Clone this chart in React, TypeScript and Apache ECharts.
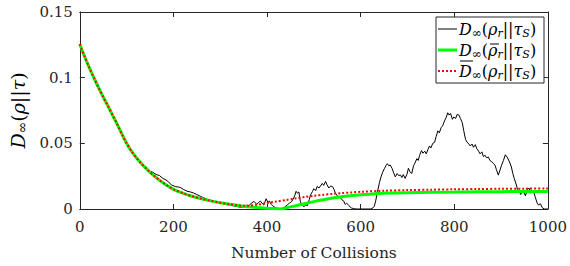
import React, { useEffect, useRef } from "react";
import * as echarts from "echarts";

// ---- data ----
const xTicks = [0, 200, 400, 600, 800, 1000];
const yTicks = [0, 0.05, 0.1, 0.15];

// shared decay part (both averaged curves)
const decayX = [0, 10, 20, 30, 40, 50, 60, 70, 80, 90, 100, 110, 120, 130, 140, 150, 160, 170, 180, 190, 200, 220, 240, 260, 280, 300, 320, 340];
const decayY = [0.1255, 0.1163, 0.1078, 0.1, 0.0924, 0.0853, 0.0785, 0.0715, 0.0645, 0.057, 0.05, 0.0442, 0.0394, 0.0352, 0.0315, 0.028, 0.0249, 0.022, 0.0194, 0.0171, 0.015, 0.0121, 0.0097, 0.0078, 0.0062, 0.0048, 0.0036, 0.0026];

const greenTailX = [360, 380, 400, 420, 430, 440, 460, 480, 500, 520, 540, 560, 580, 600, 625, 650, 700, 750, 800, 850, 900, 950, 1000];
const greenTailY = [0.0017, 0.0011, 0.0006, 0.0002, 0, 0.0008, 0.0024, 0.004, 0.0056, 0.007, 0.0083, 0.0094, 0.0102, 0.0109, 0.0115, 0.0119, 0.0124, 0.0127, 0.0129, 0.0131, 0.0132, 0.0133, 0.0133];

const redTailX = [350, 360, 380, 400, 420, 440, 460, 480, 500, 520, 540, 560, 580, 600, 650, 700, 750, 800, 850, 900, 950, 1000];
const redTailY = [0.0024, 0.0025, 0.0033, 0.0045, 0.0057, 0.0068, 0.008, 0.0091, 0.01, 0.0108, 0.0115, 0.0121, 0.0126, 0.0131, 0.0139, 0.0144, 0.0147, 0.015, 0.0152, 0.0154, 0.0155, 0.0156];

const blackPts: [number, number][] = [
  [0, 0.1255], [20, 0.1078], [40, 0.0924], [60, 0.0785], [80, 0.0645], [100, 0.05], [120, 0.0394], [140, 0.0318],
  [149, 0.0288], [155, 0.0282], [163, 0.0263], [170, 0.0255], [178, 0.0232], [184, 0.0222], [190, 0.0205], [196, 0.0182],
  [205, 0.017], [210, 0.0168], [215, 0.0163], [222, 0.0148], [229, 0.0136], [236, 0.013], [243, 0.0122], [250, 0.011],
  [258, 0.0096], [266, 0.0083], [274, 0.0072], [282, 0.0064], [290, 0.0055], [302, 0.0046], [312, 0.0035], [323, 0.0028],
  [333, 0.002], [344, 0.0013], [350, 0.0018], [355, 0.003], [361, 0.0025], [366, 0.0042], [372, 0.0058], [378, 0.0035],
  [382, 0.005], [386, 0.006], [390, 0.004], [393, 0.003], [398, 0.0078], [402, 0.005], [405, 0.006], [409, 0.0035],
  [413, 0.002], [420, 0.0008], [427, 0], [432, 0.0005], [438, 0.0015], [443, 0.003], [448, 0.0045], [452, 0.0055],
  [455, 0.007], [459, 0.01], [462, 0.0135], [465, 0.012], [468, 0.013], [471, 0.006], [474, 0.003], [479, 0.0018],
  [483, 0.0032], [486, 0.0025], [490, 0.007], [493, 0.0108], [497, 0.0133], [500, 0.0155], [504, 0.014], [507, 0.0172],
  [511, 0.016], [514, 0.0175], [518, 0.0195], [521, 0.018], [525, 0.021], [528, 0.0185], [532, 0.016], [536, 0.0175],
  [540, 0.017], [543, 0.015], [546, 0.012], [549, 0.0107], [553, 0.0085], [556, 0.009], [560, 0.007], [564, 0.006],
  [567, 0.0035], [570, 0.0045], [575, 0.0025], [580, 0.0008], [585, 0.0003], [590, 0], [622, 0], [626, 0.0008],
  [629, 0.002], [632, 0.006], [636, 0.0133], [640, 0.02], [644, 0.025], [647, 0.028], [651, 0.031], [654, 0.033],
  [657, 0.0345], [660, 0.033], [663, 0.0335], [667, 0.031], [670, 0.028], [674, 0.0245], [678, 0.027], [681, 0.0255],
  [685, 0.0258], [688, 0.024], [691, 0.0262], [695, 0.0233], [699, 0.0265], [702, 0.031], [705, 0.0285], [709, 0.027],
  [713, 0.033], [716, 0.035], [720, 0.0383], [723, 0.037], [726, 0.041], [730, 0.0445], [733, 0.0425], [737, 0.044],
  [740, 0.042], [744, 0.0455], [747, 0.048], [750, 0.0465], [754, 0.05], [758, 0.0508], [761, 0.055], [765, 0.0595],
  [768, 0.058], [772, 0.062], [775, 0.0633], [779, 0.067], [783, 0.07], [786, 0.0733], [789, 0.0715], [792, 0.0728],
  [796, 0.0683], [799, 0.07], [803, 0.069], [806, 0.072], [810, 0.0715], [813, 0.069], [817, 0.0658], [820, 0.06],
  [824, 0.053], [827, 0.051], [831, 0.0495], [834, 0.048], [838, 0.0495], [841, 0.047], [845, 0.049], [848, 0.046],
  [852, 0.044], [855, 0.042], [859, 0.0435], [862, 0.04], [866, 0.0408], [869, 0.039], [873, 0.0395], [876, 0.037],
  [880, 0.036], [884, 0.0345], [887, 0.0333], [890, 0.03], [894, 0.0258], [897, 0.029], [901, 0.0333], [905, 0.037],
  [909, 0.0413], [913, 0.0395], [918, 0.0358], [922, 0.032], [925, 0.027], [928, 0.0233], [932, 0.019], [935, 0.015],
  [939, 0.0133], [942, 0.011], [945, 0.014], [949, 0.0125], [952, 0.01], [956, 0.015], [960, 0.0158], [963, 0.012],
  [966, 0.0145], [970, 0.0125], [973, 0.009], [977, 0.0045], [980, 0.003], [984, 0.004], [988, 0.001], [992, 0], [1000, 0],
];

const FONT = "DejaVu Serif";
const INK = "#262626";

const makeRich = (big: number, small: number, inf: number, pad: number) => ({
  i: { fontFamily: FONT, fontStyle: "italic", fontSize: big, color: "#000" },
  n: { fontFamily: FONT, fontSize: big, color: "#000" },
  s: { fontFamily: FONT, fontStyle: "italic", fontSize: small, color: "#000", padding: [pad, 0, 0, 0] },
  inf: { fontFamily: FONT, fontSize: inf, color: "#000", padding: [pad - 1, 0, 0, 0] },
});
const legendRich = makeRich(16, 11, 12, 8);
const nameRich = makeRich(19, 13, 14, 9);

const legendRows = [
  { text: "{i|D}{inf|∞}{n|(}{i|ρ}{s|r}{n|||}{i|τ}{s|S}{n|)}", color: "#000", width: 1, dash: "solid", bar: "" },
  { text: "{i|D}{inf|∞}{n|(}{i|ρ}{s|r}{n|||}{i|τ}{s|S}{n|)}", color: "#00ff00", width: 3, dash: "solid", bar: "rho" },
  { text: "{i|D}{inf|∞}{n|(}{i|ρ}{s|r}{n|||}{i|τ}{s|S}{n|)}", color: "#ff0000", width: 2, dash: [2, 2], bar: "D" },
];

export default function App() {
  const ref = useRef<HTMLDivElement>(null);
  useEffect(() => {
    if (!ref.current) return;
    const chart = echarts.init(ref.current, undefined, { renderer: "svg" });
    const green = decayX.map((x, k) => [x, decayY[k]]).concat(greenTailX.map((x, k) => [x, greenTailY[k]]));
    const red = decayX.map((x, k) => [x, decayY[k]]).concat(redTailX.map((x, k) => [x, redTailY[k]]));

    const axisCommon = {
      type: "value" as const,
      axisLine: { show: true, onZero: false, lineStyle: { color: INK, width: 1 } },
      axisTick: { show: true, inside: true, length: 5, lineStyle: { color: INK } },
      splitLine: { show: false },
    };

    const legendX0 = 436, legendY0 = 17, legendW = 108, legendH = 66;
    const textX = 459;
    const graphics: any[] = [
      { type: "rect", shape: { x: legendX0, y: legendY0, width: legendW, height: legendH }, style: { fill: "#fff", stroke: INK, lineWidth: 1 }, z: 100 },
    ];
    legendRows.forEach((r, k) => {
      const cy = 29 + k * 21;
      graphics.push({
        type: "line",
        shape: { x1: 438, y1: cy, x2: 457, y2: cy },
        style: { stroke: r.color, lineWidth: r.width, lineDash: r.dash === "solid" ? null : r.dash },
        z: 101,
      });
      graphics.push({
        type: "text",
        x: textX,
        y: cy,
        style: { text: r.text, rich: legendRich, verticalAlign: "middle", align: "left" },
        z: 101,
      });
      if (r.bar === "rho") {
        graphics.push({ type: "line", shape: { x1: 490, y1: cy - 6, x2: 499, y2: cy - 6 }, style: { stroke: "#000", lineWidth: 1 }, z: 102 });
      } else if (r.bar === "D") {
        graphics.push({ type: "line", shape: { x1: 460, y1: cy - 10, x2: 473, y2: cy - 10 }, style: { stroke: "#000", lineWidth: 1 }, z: 102 });
      }
    });

    chart.setOption({
      animation: false,
      backgroundColor: "#fff",
      textStyle: { fontFamily: FONT },
      grid: { left: 72, right: 19, top: 12, bottom: 55 },
      xAxis: [
        {
          ...axisCommon,
          position: "bottom",
          min: xTicks[0],
          max: xTicks[xTicks.length - 1],
          interval: 200,
          axisLabel: { color: INK, fontFamily: FONT, fontSize: 15, margin: 10, formatter: (v: number) => String(v) },
          name: "Number of Collisions",
          nameLocation: "middle",
          nameGap: 36,
          nameTextStyle: { color: INK, fontFamily: FONT, fontSize: 15.5 },
        },
        {
          ...axisCommon,
          position: "top",
          min: xTicks[0],
          max: xTicks[xTicks.length - 1],
          interval: 200,
          axisLabel: { show: false },
        },
      ],
      yAxis: [
        {
          ...axisCommon,
          position: "left",
          min: yTicks[0],
          max: yTicks[yTicks.length - 1],
          interval: 0.05,
          axisLabel: { color: INK, fontFamily: FONT, fontSize: 15, margin: 7, formatter: (v: number) => String(+v.toFixed(2)) },
          name: "{i|D}{inf|∞}{n|(}{i|ρ}{n|||}{i|τ}{n|)}",
          nameLocation: "middle",
          nameRotate: 90,
          nameGap: 48,
          nameTextStyle: { fontFamily: FONT, fontSize: 19, rich: nameRich },
        },
        {
          ...axisCommon,
          position: "right",
          min: yTicks[0],
          max: yTicks[yTicks.length - 1],
          interval: 0.05,
          axisLabel: { show: false },
        },
      ],
      series: [
        {
          type: "line",
          data: blackPts,
          showSymbol: false,
          symbol: "none",
          lineStyle: { color: "#000", width: 1 },
          z: 2,
        },
        {
          type: "line",
          data: green,
          smooth: 0.3,
          showSymbol: false,
          symbol: "none",
          lineStyle: { color: "#00ff00", width: 3 },
          z: 3,
        },
        {
          type: "line",
          data: red,
          smooth: 0.3,
          showSymbol: false,
          symbol: "none",
          lineStyle: { color: "#ff0000", width: 2, type: [2, 2] },
          z: 4,
        },
      ],
      graphic: graphics,
    });
    return () => chart.dispose();
  }, []);
  return <div ref={ref} style={{ position: "fixed", left: 0, top: 0, width: 570, height: 266 }} />;
}
